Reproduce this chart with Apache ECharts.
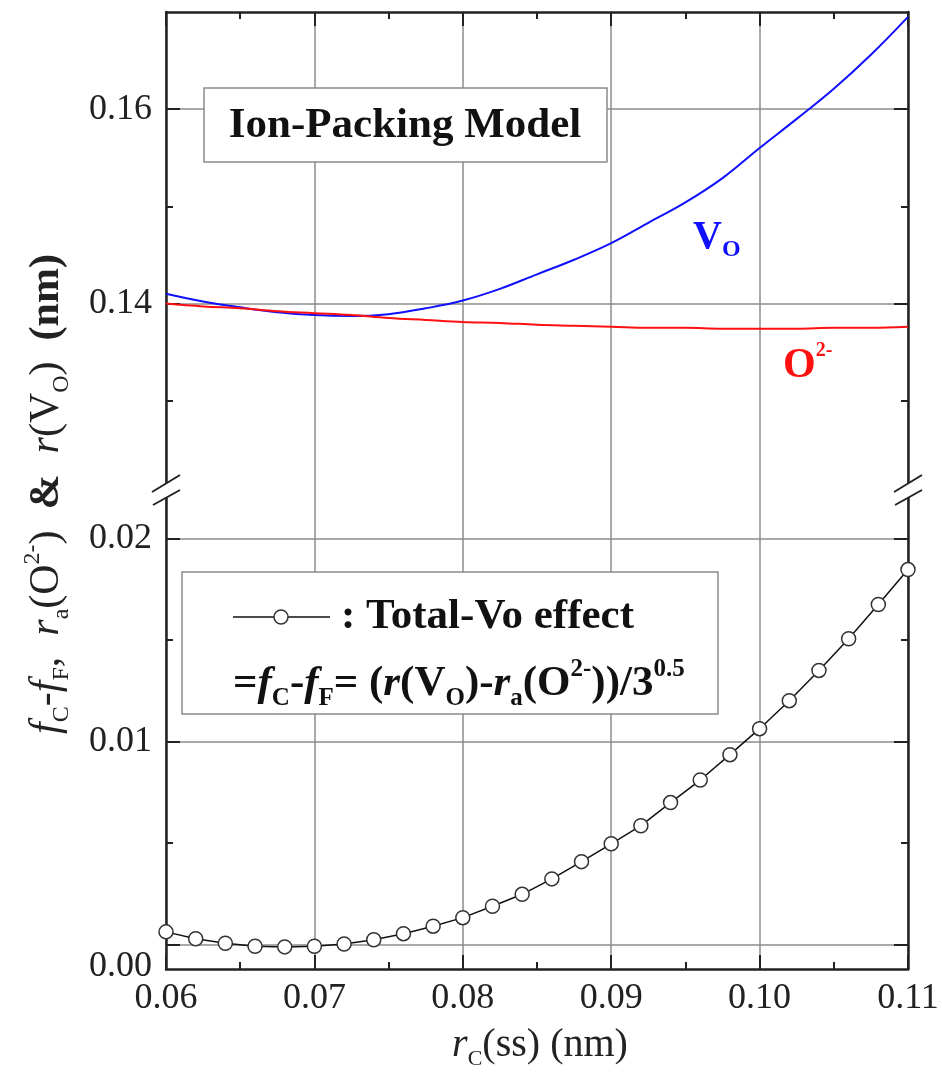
<!DOCTYPE html>
<html>
<head>
<meta charset="utf-8">
<script src="https://cdn.jsdelivr.net/npm/echarts@6.0.0/dist/echarts.min.js"></script>
<style>
html, body { margin: 0; padding: 0; background: #fff; }
#chart { width: 942px; height: 1077px; }
</style>
</head>
<body>
<div id="chart"></div>
<script>
// radii (nm)
var rcCoarse = [0.0600, 0.0625, 0.0650, 0.0675, 0.0700, 0.0725, 0.0750, 0.0775, 0.0800, 0.0825, 0.0850,
    0.0875, 0.0900, 0.0925, 0.0950, 0.0975, 0.1000, 0.1025, 0.1050, 0.1075, 0.1100];
var rVo = [0.1410, 0.1402, 0.1396, 0.1391, 0.1388, 0.1387, 0.1389, 0.1395, 0.1403, 0.1415, 0.1430,
    0.1445, 0.1462, 0.1483, 0.1504, 0.1529, 0.1560, 0.1590, 0.1621, 0.1656, 0.1695];
var rO2 = [0.1400, 0.1397, 0.1395, 0.1392, 0.1390, 0.1388, 0.1385, 0.1383, 0.1381, 0.1380, 0.1378,
    0.1377, 0.1376, 0.1375, 0.1375, 0.1374, 0.1374, 0.1374, 0.1375, 0.1375, 0.1376];

// total-Vo effect markers (lower panel)
var rcFine = [0.060, 0.062, 0.064, 0.066, 0.068, 0.070, 0.072, 0.074, 0.076, 0.078, 0.080, 0.082, 0.084,
    0.086, 0.088, 0.090, 0.092, 0.094, 0.096, 0.098, 0.100, 0.102, 0.104, 0.106, 0.108, 0.110];
var totalVo = [0.00063, 0.00029, 0.00007, -0.00008, -0.00011, -0.00008, 0.00003, 0.00024, 0.00054, 0.00091,
    0.00133, 0.00189, 0.00248, 0.00324, 0.00409, 0.00497, 0.00586, 0.00700, 0.00811, 0.00936,
    0.01064, 0.01202, 0.01351, 0.01507, 0.01676, 0.01848];

// tick values
var upperMajor = [0.14, 0.16];
var upperMinor = [0.13, 0.15];
var lowerMajor = [0, 0.01, 0.02];
var lowerMinor = [0.005, 0.015];

var serif = "'Liberation Serif', 'DejaVu Serif', serif";
var frame = '#222';
var gridGray = '#8c8c8c';

function pairs (xs, ys) {
    return xs.map(function (x, i) { return [x, ys[i]]; });
}

function richSet (size, sub, weight, color) {
    var base = { fontFamily: serif, fontWeight: weight, fill: color };
    return {
        n: Object.assign({}, base, { fontSize: size, lineHeight: size * 1.25, verticalAlign: 'middle' }),
        b: Object.assign({}, base, { fontSize: size, lineHeight: size * 1.25, verticalAlign: 'middle', fontWeight: 'bold' }),
        i: Object.assign({}, base, { fontSize: size, lineHeight: size * 1.25, verticalAlign: 'middle', fontStyle: 'italic' }),
        s: Object.assign({}, base, { fontSize: sub, lineHeight: sub, verticalAlign: 'bottom' }),
        p: Object.assign({}, base, { fontSize: sub, lineHeight: sub, verticalAlign: 'top' })
    };
}

function yAxisPair (grid, side, major, minor, min, max, labels) {
    var major0 = {
        type: 'value', gridIndex: grid, position: side, min: min, max: max,
        axisLine: { show: true, onZero: false, lineStyle: { color: frame, width: 2.5 } },
        axisTick: { show: true, inside: true, length: 14, customValues: major, lineStyle: { color: frame, width: 2 } },
        axisLabel: {
            show: labels, customValues: major, margin: 14, color: '#222',
            fontFamily: serif, fontSize: 36,
            formatter: function (v) { return Math.abs(v) < 1e-9 ? '{lo|0.00}' : v.toFixed(2); },
            rich: { lo: { fontFamily: serif, fontSize: 36, color: '#222', padding: [44, 0, 0, 0] } }
        },
        splitLine: { show: side === 'left', lineStyle: { color: gridGray, width: 1.5 } }
    };
    var minor0 = {
        type: 'value', gridIndex: grid, position: side, min: min, max: max,
        axisLine: { show: false, onZero: false },
        axisTick: { show: true, inside: true, length: 7, customValues: minor, lineStyle: { color: frame, width: 2 } },
        axisLabel: { show: false },
        splitLine: { show: false }
    };
    return [major0, minor0];
}

function xAxisFor (grid, side, labels) {
    return {
        type: 'value', gridIndex: grid, position: side, min: 0.06, max: 0.11, interval: 0.01,
        axisLine: { show: true, onZero: false, lineStyle: { color: frame, width: 2.5 } },
        axisTick: { show: true, inside: true, length: 14, lineStyle: { color: frame, width: 2 } },
        minorTick: { show: true, splitNumber: 2, length: 7, lineStyle: { color: frame, width: 2 } },
        axisLabel: {
            show: labels, margin: 12, color: '#222', fontFamily: serif, fontSize: 36,
            formatter: function (v) { return v.toFixed(2); }
        },
        splitLine: { show: true, lineStyle: { color: gridGray, width: 1.5 } }
    };
}

var yAxes = []
    .concat(yAxisPair(0, 'left', upperMajor, upperMinor, 0.1208, 0.17, true))
    .concat(yAxisPair(0, 'right', upperMajor, upperMinor, 0.1208, 0.17, false))
    .concat(yAxisPair(1, 'left', lowerMajor, lowerMinor, -0.0012, 0.0224, true))
    .concat(yAxisPair(1, 'right', lowerMajor, lowerMinor, -0.0012, 0.0224, false));

var titleRich = richSet(42, 24, 'normal', '#222');
var legendRich = richSet(43, 25, 'bold', '#111');
var xTitleRich = richSet(40, 22, 'normal', '#222');

function breakMark (x) {
    return [
        { type: 'polygon', z: 60, shape: { points: [[x - 14, 492], [x + 14, 475], [x + 14, 490], [x - 13, 505]] },
            style: { fill: '#fff' } },
        { type: 'line', z: 61, shape: { x1: x - 14, y1: 492, x2: x + 14, y2: 475 }, style: { stroke: frame, lineWidth: 2 } },
        { type: 'line', z: 61, shape: { x1: x - 13, y1: 505, x2: x + 14, y2: 490 }, style: { stroke: frame, lineWidth: 2 } }
    ];
}

var chart = echarts.init(document.getElementById('chart'));
var option = {
    backgroundColor: '#fff',
    animation: false,
    grid: [
        { left: 166, right: 34, top: 12, height: 478 },
        { left: 166, right: 34, top: 490, height: 479 }
    ],
    xAxis: [xAxisFor(0, 'top', false), xAxisFor(1, 'bottom', true)],
    yAxis: yAxes,
    series: [
        {
            name: 'VO', type: 'line', xAxisIndex: 0, yAxisIndex: 0, smooth: 0.4,
            showSymbol: false, data: pairs(rcCoarse, rVo),
            lineStyle: { color: '#1010ff', width: 2 }, itemStyle: { color: '#1010ff' }
        },
        {
            name: 'O2-', type: 'line', xAxisIndex: 0, yAxisIndex: 0, smooth: 0.4,
            showSymbol: false, data: pairs(rcCoarse, rO2),
            lineStyle: { color: '#ff1010', width: 2 }, itemStyle: { color: '#ff1010' }
        },
        {
            name: 'Total-Vo effect', type: 'line', xAxisIndex: 1, yAxisIndex: 4,
            symbol: 'circle', symbolSize: 14, data: pairs(rcFine, totalVo),
            lineStyle: { color: '#111', width: 1.5 },
            itemStyle: { color: '#fff', borderColor: '#333', borderWidth: 1.5 }
        }
    ],
    graphic: {
        elements: [
            // upper annotation box
            { type: 'rect', z: 50, shape: { x: 204, y: 88, width: 403, height: 74 },
                style: { fill: '#fff', stroke: '#8a8a8a', lineWidth: 1.5 } },
            { type: 'text', z: 51, x: 405, y: 126,
                style: { text: 'Ion-Packing Model', fontFamily: serif, fontWeight: 'bold', fontSize: 43,
                    fill: '#111', align: 'center', verticalAlign: 'middle' } },
            // lower legend box
            { type: 'rect', z: 50, shape: { x: 182, y: 572, width: 536, height: 142 },
                style: { fill: '#fff', stroke: '#8a8a8a', lineWidth: 1.5 } },
            { type: 'line', z: 51, shape: { x1: 233, y1: 617, x2: 330, y2: 617 },
                style: { stroke: '#111', lineWidth: 1.5 } },
            { type: 'circle', z: 52, shape: { cx: 281, cy: 617, r: 7 },
                style: { fill: '#fff', stroke: '#333', lineWidth: 1.5 } },
            { type: 'text', z: 51, x: 341, y: 617,
                style: { text: ': Total-Vo effect', fontFamily: serif, fontWeight: 'bold', fontSize: 43,
                    fill: '#111', align: 'left', verticalAlign: 'middle' } },
            { type: 'text', z: 51, x: 233, y: 684,
                style: {
                    text: '{n|=}{i|f}{s|C}{n|-}{i|f}{s|F}{n|= (}{i|r}{n|(V}{s|O}{n|)-}{i|r}{s|a}{n|(O}{p|2-}{n|))/3}{p|0.5}',
                    rich: legendRich, align: 'left', verticalAlign: 'middle'
                } },
            // curve labels
            { type: 'text', z: 51, x: 693, y: 238,
                style: { text: '{v|V}{s|O}', align: 'left', verticalAlign: 'middle',
                    rich: {
                        v: { fontFamily: serif, fontWeight: 'bold', fontSize: 40, fill: '#1010ff', lineHeight: 48, verticalAlign: 'middle' },
                        s: { fontFamily: serif, fontWeight: 'bold', fontSize: 24, fill: '#1010ff', lineHeight: 24, verticalAlign: 'bottom' }
                    } } },
            { type: 'text', z: 51, x: 783, y: 366,
                style: { text: '{v|O}{p|2-}', align: 'left', verticalAlign: 'middle',
                    rich: {
                        v: { fontFamily: serif, fontWeight: 'bold', fontSize: 42, fill: '#ff1010', lineHeight: 50, verticalAlign: 'middle' },
                        p: { fontFamily: serif, fontWeight: 'bold', fontSize: 20, fill: '#ff1010', lineHeight: 20, verticalAlign: 'top' }
                    } } },
            // axis titles
            { type: 'text', z: 51, x: 47, y: 494, rotation: Math.PI / 2,
                style: {
                    text: '{i|f}{s|C}{n|-}{i|f}{s|F}{n|,  }{i|r}{s|a}{n|(O}{p|2-}{n|)  }{b|&}{n|  }{i|r}{n|(V}{s|O}{n|)  }{b|(nm)}',
                    rich: titleRich, align: 'center', verticalAlign: 'middle'
                } },
            { type: 'text', z: 51, x: 540, y: 1045,
                style: { text: '{i|r}{s|C}{n|(ss) (nm)}', rich: xTitleRich, align: 'center', verticalAlign: 'middle' } }
        ].concat(breakMark(166)).concat(breakMark(908))
    }
};
chart.setOption(option);
</script>
</body>
</html>
